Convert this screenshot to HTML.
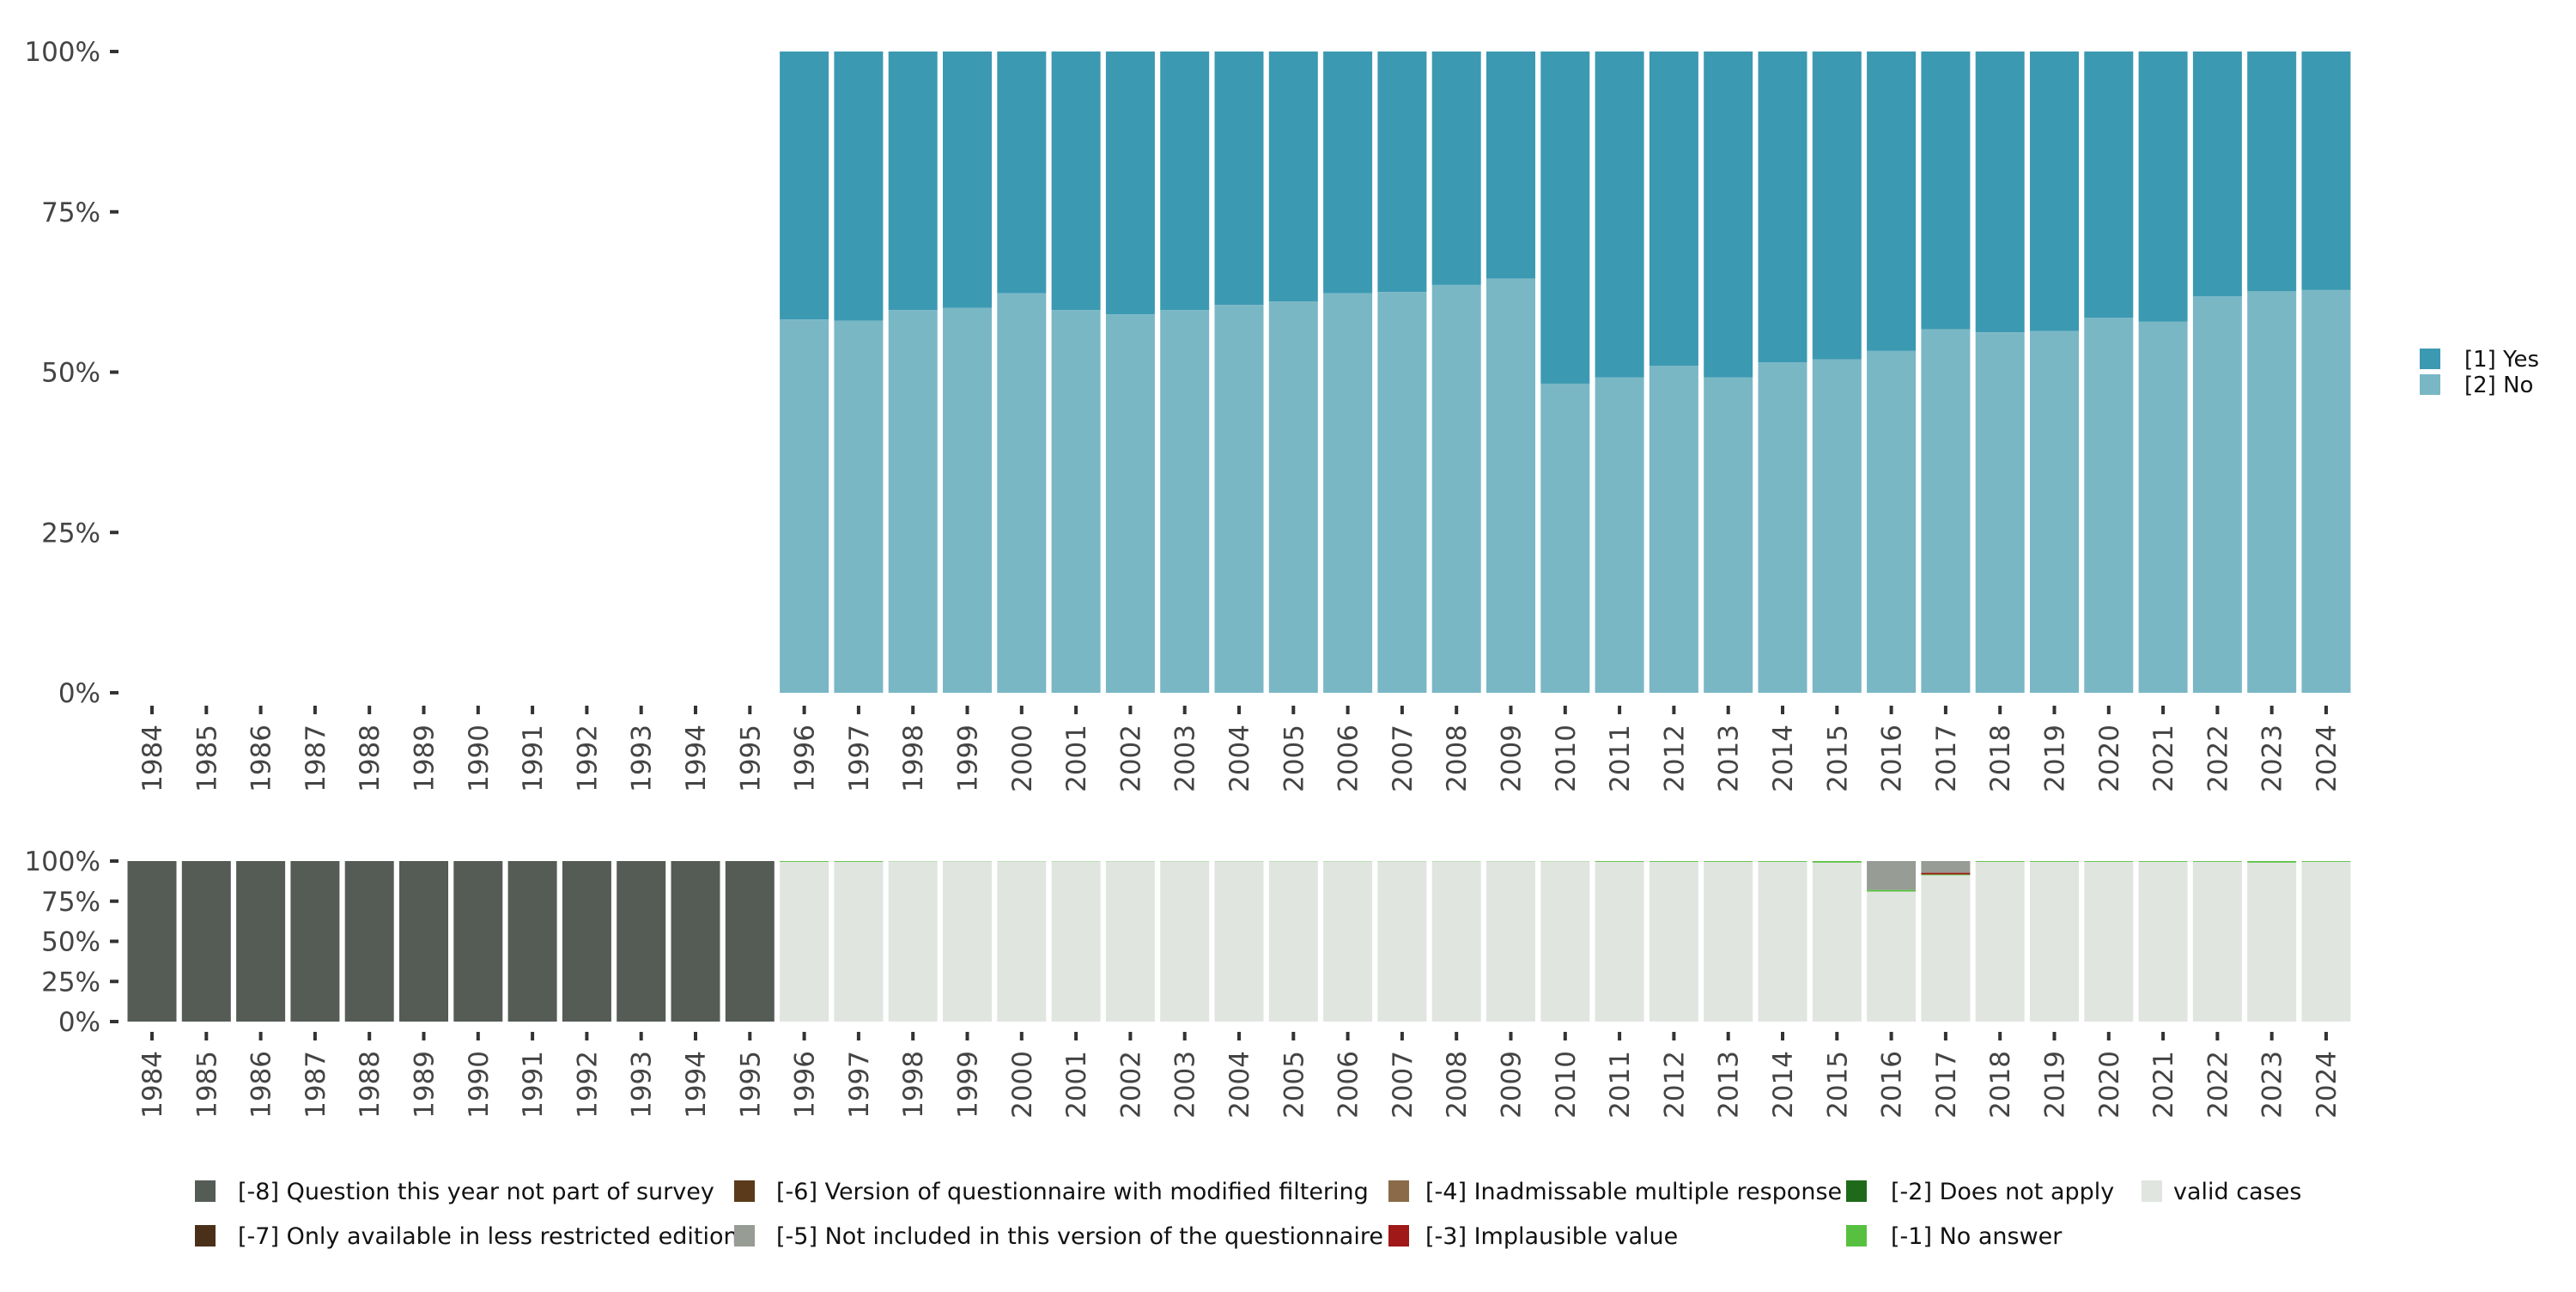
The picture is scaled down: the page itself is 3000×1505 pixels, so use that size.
<!DOCTYPE html>
<html><head><meta charset="utf-8"><style>
body{margin:0;background:#fff;}
svg text{font-family:"DejaVu Sans","Liberation Sans",sans-serif;}
</style></head><body>
<svg id="chart" width="3000" height="1500" viewBox="0 0 3000 1500" xmlns="http://www.w3.org/2000/svg">
<g id="topPanel"></g>
<g id="botPanel"></g>
<g id="legTop">
 <rect x="2818" y="406" width="24" height="24" fill="#3c99b2"/>
 <text x="2870" y="427" font-size="26" fill="#111">[1] Yes</text>
 <rect x="2818" y="436" width="24" height="24" fill="#79b7c5"/>
 <text x="2870" y="457" font-size="26" fill="#111">[2] No</text>
</g>
<g id="legBot"></g>
</svg>
<script>
const years=[1984,1985,1986,1987,1988,1989,1990,1991,1992,1993,1994,1995,1996,1997,1998,1999,2000,2001,2002,2003,2004,2005,2006,2007,2008,2009,2010,2011,2012,2013,2014,2015,2016,2017,2018,2019,2020,2021,2022,2023,2024];
const noShare=[null,null,null,null,null,null,null,null,null,null,null,null,58.2,58,59.7,60,62.3,59.7,59,59.7,60.5,61,62.3,62.5,63.6,64.6,48.2,49.2,51,49.2,51.5,52,53.3,56.7,56.2,56.4,58.5,57.9,61.8,62.6,62.8];
const yTicks=[0,25,50,75,100];
const yTickLabels=["0%","25%","50%","75%","100%"];
const missing8=[100,100,100,100,100,100,100,100,100,100,100,100,0,0,0,0,0,0,0,0,0,0,0,0,0,0,0,0,0,0,0,0,0,0,0,0,0,0,0,0,0];
const missing5=[0,0,0,0,0,0,0,0,0,0,0,0,0,0,0,0,0,0,0,0,0,0,0,0,0,0,0,0,0,0,0,0,18,7.3,0,0,0,0,0,0,0];
const missing3=[0,0,0,0,0,0,0,0,0,0,0,0,0,0,0,0,0,0,0,0,0,0,0,0,0,0,0,0,0,0,0,0,0,1,0,0,0,0,0,0,0];
const missing1=[0,0,0,0,0,0,0,0,0,0,0,0,0.5,0.5,0.2,0.2,0.2,0.2,0.2,0.2,0.2,0.2,0.2,0.2,0.2,0.2,0.2,0.5,0.5,0.5,0.5,1,1,0.6,0.5,0.5,0.5,0.5,0.5,1,0.5];
const legendLabels=["[-8] Question this year not part of survey","[-7] Only available in less restricted edition","[-6] Version of questionnaire with modified filtering","[-5] Not included in this version of the questionnaire","[-4] Inadmissable multiple response","[-3] Implausible value","[-2] Does not apply","[-1] No answer","valid cases"];

const NS="http://www.w3.org/2000/svg";
function mk(p,t,a){const e=document.createElementNS(NS,t);for(const k in a)e.setAttribute(k,a[k]);p.appendChild(e);return e;}
const x0=177,pitch=63.3,bw=57;
function xC(i){return x0+i*pitch;}
function yTop(v){return 807-v/100*747;}
function yBot(v){return 1190-v/100*187;}
const topG=document.getElementById('topPanel'),botG=document.getElementById('botPanel');

function axes(g,yf,labY,name){
 yTicks.forEach((t,i)=>{
  const l=mk(g,'rect',{x:128,y:yf(t)-2,width:10,height:4,fill:'#333'});
  
  
  const tx=mk(g,'text',{x:117,y:yf(t)+11,'font-size':31,'text-anchor':'end',fill:'#444'});
  
  
  tx.textContent=yTickLabels[i];
 });
 years.forEach((yr,i)=>{
  const tk=mk(g,'rect',{x:xC(i)-2,y:labY-22,width:4,height:10,fill:'#333'});
  
  
  const tx=mk(g,'text',{x:0,y:0,'font-size':31,'text-anchor':'end',fill:'#444',transform:`translate(${xC(i)+11},${labY}) rotate(-90)`});
  
  
  tx.textContent=yr;
 });
}
axes(topG,yTop,844,'top');
axes(botG,yBot,1224,'bottom');

years.forEach((yr,i)=>{
 if(noShare[i]==null)return;
 const x=xC(i)-bw/2;
 const r1=mk(topG,'rect',{x:x,y:yTop(100),width:bw,height:yTop(noShare[i])-yTop(100),fill:'#3c99b2'});
 
 
 const r2=mk(topG,'rect',{x:x,y:yTop(noShare[i]),width:bw,height:yTop(0)-yTop(noShare[i]),fill:'#79b7c5'});
 
 
});

years.forEach((yr,i)=>{
 const x=xC(i)-bw/2;
 const segs=[[missing8[i],'#555c56','m8'],[missing5[i],'#979c95','m5'],[missing3[i],'#a01818','m3'],[missing1[i],'#58c040','m1']];
 let cum=100;
 segs.forEach(s=>{
  if(s[0]<=0)return;
  const r=mk(botG,'rect',{x:x,y:yBot(cum),width:bw,height:yBot(cum-s[0])-yBot(cum),fill:s[1]});
  
  
  cum-=s[0];
 });
 if(cum>0){
  const r=mk(botG,'rect',{x:x,y:yBot(cum),width:bw,height:yBot(0)-yBot(cum),fill:'#e0e5e0'});
  
  
 }
});

const lg=document.getElementById('legBot');
const lcols=['#555c56','#4a3018','#5a3a1a','#979c95','#8a6a48','#a01818','#1e6a1a','#58c040','#e0e5e0'];
const colKX=[227,855,1617,2150,2494],colTX=[277,904,1660,2202,2531],rowY=[1387,1439];
legendLabels.forEach((lab,i)=>{
 const c=Math.floor(i/2),r=i%2;
 const k=mk(lg,'rect',{x:colKX[c],y:rowY[r]-12,width:24,height:25,fill:lcols[i]});
 
 
 const t=mk(lg,'text',{x:colTX[c],y:rowY[r]+10,'font-size':27,fill:'#111'});
 
 
 t.textContent=lab;
});
</script>
</body></html>
